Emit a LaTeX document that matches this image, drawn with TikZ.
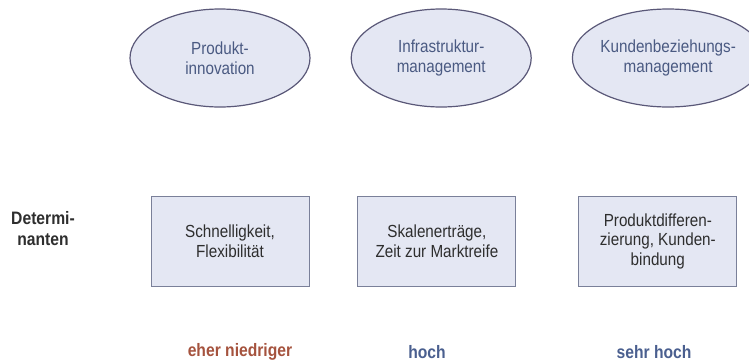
\documentclass[tikz,border=0pt]{standalone}
\usepackage{fontspec}
\setmainfont{Liberation Sans}[FakeStretch=0.87]
\usetikzlibrary{shapes.geometric,positioning}

\definecolor{ovalfill}{HTML}{E4E7F3}
\definecolor{ovaldraw}{HTML}{5A5878}
\definecolor{ovaltext}{HTML}{4A5A82}
\definecolor{boxdraw}{HTML}{7A8099}
\definecolor{boxtext}{HTML}{2E2E2E}
\definecolor{lowtext}{HTML}{A5533E}
\definecolor{hightext}{HTML}{4A5F8F}

\tikzstyle{goal} = [ellipse, minimum width=180pt, minimum height=98pt, inner sep=0pt, draw=ovaldraw, line width=1.2pt, fill=ovalfill, text=ovaltext, align=center, font=\fontsize{17.5}{20}\selectfont]
\tikzstyle{determ} = [rectangle, minimum width=158pt, minimum height=90pt, inner sep=0pt, draw=boxdraw, line width=0.9pt, fill=ovalfill, text=boxtext, align=center, font=\fontsize{17.5}{19.5}\selectfont]
\tikzstyle{level} = [inner sep=0pt, font=\fontsize{18}{21}\selectfont\bfseries]

\begin{document}
\begin{tikzpicture}[x=1pt, y=1pt, node distance=40pt]
	\useasboundingbox (0,0) rectangle (749,-362);
	\node (g1) [goal] at (220,-58) {Produkt-\\innovation};
	\node (g2) [goal, right=of g1] {Infrastruktur-\\management};
	\node (g3) [goal, right=of g2] {Kundenbeziehungs-\\management};

	\node (d1) [determ] at (230,-241) {Schnelligkeit,\\Flexibilität};
	\node (d2) [determ, right=48pt of d1] {Skalenerträge,\\Zeit zur Marktreife};
	\node (d3) [determ, right=62pt of d2] {Produktdifferen-\\zierung, Kunden-\\bindung};
	\node (det) [level, align=center, text=boxtext] at (43,-229) {Determi-\\nanten};

	\node (l1) [level, text=lowtext] at (240,-352) {eher niedriger};
	\node (l2) [level, text=hightext] at (427,-352) {hoch};
	\node (l3) [level, text=hightext] at (654,-352) {sehr hoch};
\end{tikzpicture}
\end{document}
